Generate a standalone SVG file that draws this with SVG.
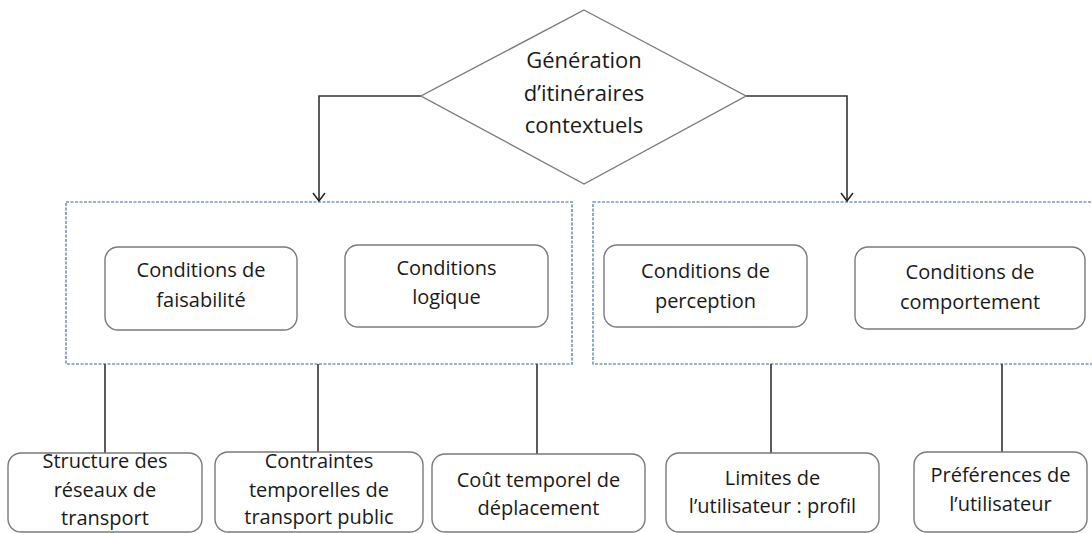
<svg xmlns="http://www.w3.org/2000/svg" width="1092" height="533" viewBox="0 0 1092 533">
<style>
.t{font-family:"Open Sans","Liberation Sans",sans-serif;font-size:20px;fill:#1a1a1a;text-anchor:middle}
.td{font-size:22px}
.box{fill:#fff;stroke:#7a7a7a;stroke-width:1.4}
.grp{fill:none;stroke:#7b97c2;stroke-width:1.7;stroke-dasharray:3 1.5}
.ln{fill:none;stroke:#333;stroke-width:1.6}
</style>
<defs>
<marker id="arr" viewBox="0 0 14 14" refX="13" refY="7" markerWidth="14" markerHeight="14" markerUnits="userSpaceOnUse" orient="auto">
<polyline points="5,1 13,7 5,13" fill="none" stroke="#222" stroke-width="1.5"/>
</marker>
</defs>
<rect width="1092" height="533" fill="#fff"/>
<g id="group-left"><rect class="grp" x="66" y="202" width="506" height="162"/></g>
<g id="group-right"><rect class="grp" x="593" y="202" width="520" height="162"/></g>
<g id="connectors">
<polyline class="ln" points="421,96 319,96 319,201" marker-end="url(#arr)"/>
<polyline class="ln" points="746,96 847,96 847,201" marker-end="url(#arr)"/>
<line class="ln" x1="105" y1="364" x2="105" y2="453"/>
<line class="ln" x1="318" y1="364" x2="318" y2="452"/>
<line class="ln" x1="537" y1="364" x2="537" y2="454"/>
<line class="ln" x1="771" y1="364" x2="771" y2="453"/>
<line class="ln" x1="1002" y1="364" x2="1002" y2="452"/>
</g>
<g id="root">
<polygon class="box" points="584,10 746,96 584,184 421,96"/>
<text class="t td" x="584" y="68">Génération</text>
<text class="t td" x="584" y="100.5">d’itinéraires</text>
<text class="t td" x="584" y="133">contextuels</text>
</g>
<g id="faisabilite">
<rect class="box" x="105" y="247" width="192" height="83" rx="13"/>
<text class="t" x="201" y="277">Conditions de</text>
<text class="t" x="201" y="307">faisabilité</text>
</g>
<g id="logique">
<rect class="box" x="345" y="245" width="203" height="82" rx="13"/>
<text class="t" x="446.5" y="275">Conditions</text>
<text class="t" x="446.5" y="304">logique</text>
</g>
<g id="perception">
<rect class="box" x="604" y="245" width="203" height="82" rx="13"/>
<text class="t" x="705.5" y="278">Conditions de</text>
<text class="t" x="705.5" y="308">perception</text>
</g>
<g id="comportement">
<rect class="box" x="855" y="247" width="230" height="82" rx="13"/>
<text class="t" x="970" y="279">Conditions de</text>
<text class="t" x="970" y="309">comportement</text>
</g>
<g id="structure">
<rect class="box" x="8" y="453" width="194" height="79" rx="13"/>
<text class="t" x="105" y="468">Structure des</text>
<text class="t" x="105" y="497">réseaux de</text>
<text class="t" x="105" y="525">transport</text>
</g>
<g id="contraintes">
<rect class="box" x="215" y="452" width="208" height="80" rx="13"/>
<text class="t" x="319" y="468">Contraintes</text>
<text class="t" x="319" y="497">temporelles de</text>
<text class="t" x="319" y="524">transport public</text>
</g>
<g id="cout">
<rect class="box" x="432" y="454" width="213" height="78" rx="13"/>
<text class="t" x="538.5" y="487">Coût temporel de</text>
<text class="t" x="538.5" y="515">déplacement</text>
</g>
<g id="limites">
<rect class="box" x="666" y="453" width="213" height="79" rx="13"/>
<text class="t" x="772.5" y="485">Limites de</text>
<text class="t" x="772.5" y="513">l’utilisateur : profil</text>
</g>
<g id="preferences">
<rect class="box" x="914" y="452" width="173" height="80" rx="13"/>
<text class="t" x="1000.5" y="482">Préférences de</text>
<text class="t" x="1000.5" y="511">l’utilisateur</text>
</g>
</svg>
